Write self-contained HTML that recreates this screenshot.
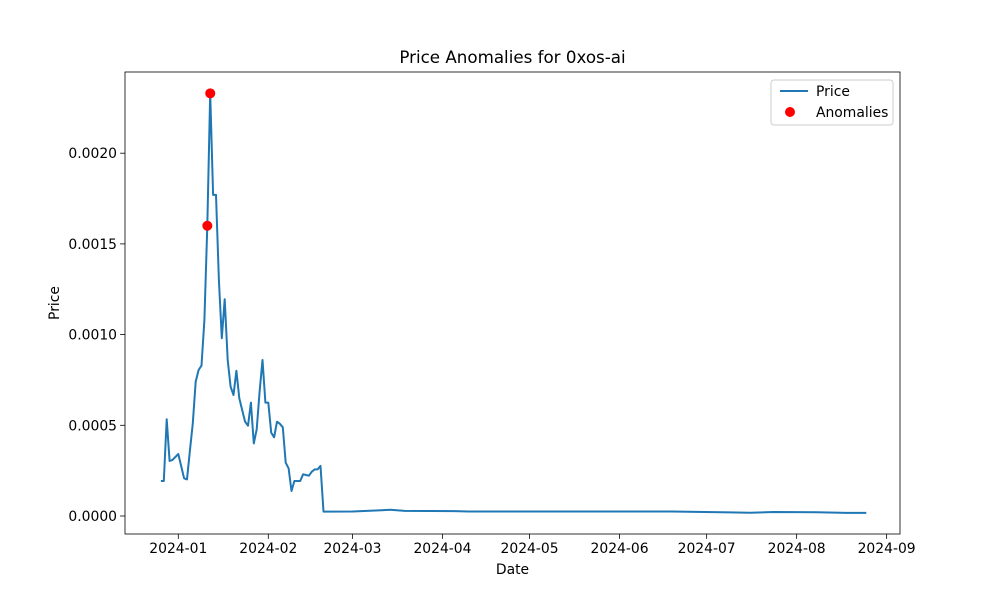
<!DOCTYPE html>
<html><head><meta charset="utf-8"><style>
body{margin:0;background:#fff;}
svg text{font-family:"DejaVu Sans","Liberation Sans",sans-serif;fill:#000;}
</style></head><body>
<svg id="chart" width="1000" height="600" xmlns="http://www.w3.org/2000/svg">
<rect width="1000" height="600" fill="#fff"/>
<text x="512.5" y="63" font-size="16.7" text-anchor="middle">Price Anomalies for 0xos-ai</text>
<g id="plot"></g>
<text x="512.5" y="574" font-size="13.9" text-anchor="middle">Date</text>
<text transform="translate(59,303) rotate(-90)" font-size="13.9" text-anchor="middle">Price</text>
<g>
<rect x="771" y="80" width="122" height="45" rx="3" fill="#fff" fill-opacity="0.8" stroke="#ccc"/>
<line x1="780" y1="91" x2="808" y2="91" stroke="#1f77b4" stroke-width="2"/>
<text x="816" y="96" font-size="13.9">Price</text>
<circle cx="790" cy="112" r="5" fill="red"/>
<text x="816" y="117" font-size="13.9">Anomalies</text>
</g>
</svg>
<script>
// days since 2024-01-01
const days = [-6,-5,-4,-3,-2,0,2,3,4,5,6,7,8,9,10,11,12,13,14,15,16,17,18,19,20,21,22,23,24,25,26,27,28,29,30,31,32,33,34,35,36,37,38,39,40,41,42,43,44,45,46,47,48,49,50,60,70,73,78,95,100,170,190,197,205,220,230,237];
const prices = [0.000193,0.000193,0.000533,0.000303,0.000309,0.000342,0.000208,0.000202,0.00036,0.000511,0.000741,0.000805,0.000829,0.00108,0.0016,0.00233,0.00177,0.00177,0.0013,0.00098,0.001195,0.00086,0.000713,0.000667,0.000801,0.000649,0.000584,0.00052,0.000498,0.000625,0.0004,0.000478,0.000685,0.00086,0.000625,0.000625,0.00046,0.000434,0.00052,0.000508,0.000489,0.000294,0.000263,0.000138,0.000193,0.000193,0.000193,0.00023,0.000226,0.000222,0.000244,0.000257,0.000257,0.000276,0.000024,0.000025,0.000032,0.000034,0.000028,0.000027,0.000025,0.000025,0.00002,0.000018,0.000022,0.000021,0.000017,0.000017];
const anomalyDays = [10,11];
const anomalyPrices = [0.0016,0.00233];
const xTickDays = [0,31,60,91,121,152,182,213,244];
const xTickLabels = ["2024-01","2024-02","2024-03","2024-04","2024-05","2024-06","2024-07","2024-08","2024-09"];
const yTicks = [0,0.0005,0.001,0.0015,0.002];
const yTickLabels = ["0.0000","0.0005","0.0010","0.0015","0.0020"];

const L=125,R=900,T=72,B=534;
const xs = d => 178.3 + d*2.903;
const ys = v => 516 - v*181400;
const NS="http://www.w3.org/2000/svg";
const g=document.getElementById('plot');
function mk(tag,attrs){const e=document.createElementNS(NS,tag);for(const k in attrs)e.setAttribute(k,attrs[k]);g.appendChild(e);return e;}
xTickDays.forEach((d,i)=>{
  const x=xs(d);
  const t=mk('line',{x1:x,x2:x,y1:B,y2:B+4.9,stroke:'#000','stroke-width':0.8});
  
  
  const l=mk('text',{x:x,y:B+19,'font-size':13.9,'text-anchor':'middle'});
  l.textContent=xTickLabels[i];
  
  
});
yTicks.forEach((v,i)=>{
  const y=ys(v);
  const t=mk('line',{x1:L-4.9,x2:L,y1:y,y2:y,stroke:'#000','stroke-width':0.8});
  
  
  const l=mk('text',{x:L-8,y:y+5,'font-size':13.9,'text-anchor':'end'});
  l.textContent=yTickLabels[i];
  
  
});
const pts=days.map((d,i)=>xs(d).toFixed(1)+','+ys(prices[i]).toFixed(1)).join(' ');
const line=mk('polyline',{points:pts,fill:'none',stroke:'#1f77b4','stroke-width':2,'stroke-linejoin':'round'});


anomalyDays.forEach((d,i)=>{
  const c=mk('circle',{cx:xs(d),cy:ys(anomalyPrices[i]),r:5,fill:'red'});
  
  
});
const frame=mk('rect',{x:L,y:T,width:R-L,height:B-T,fill:'none',stroke:'#000','stroke-width':0.8});


</script>
</body></html>
